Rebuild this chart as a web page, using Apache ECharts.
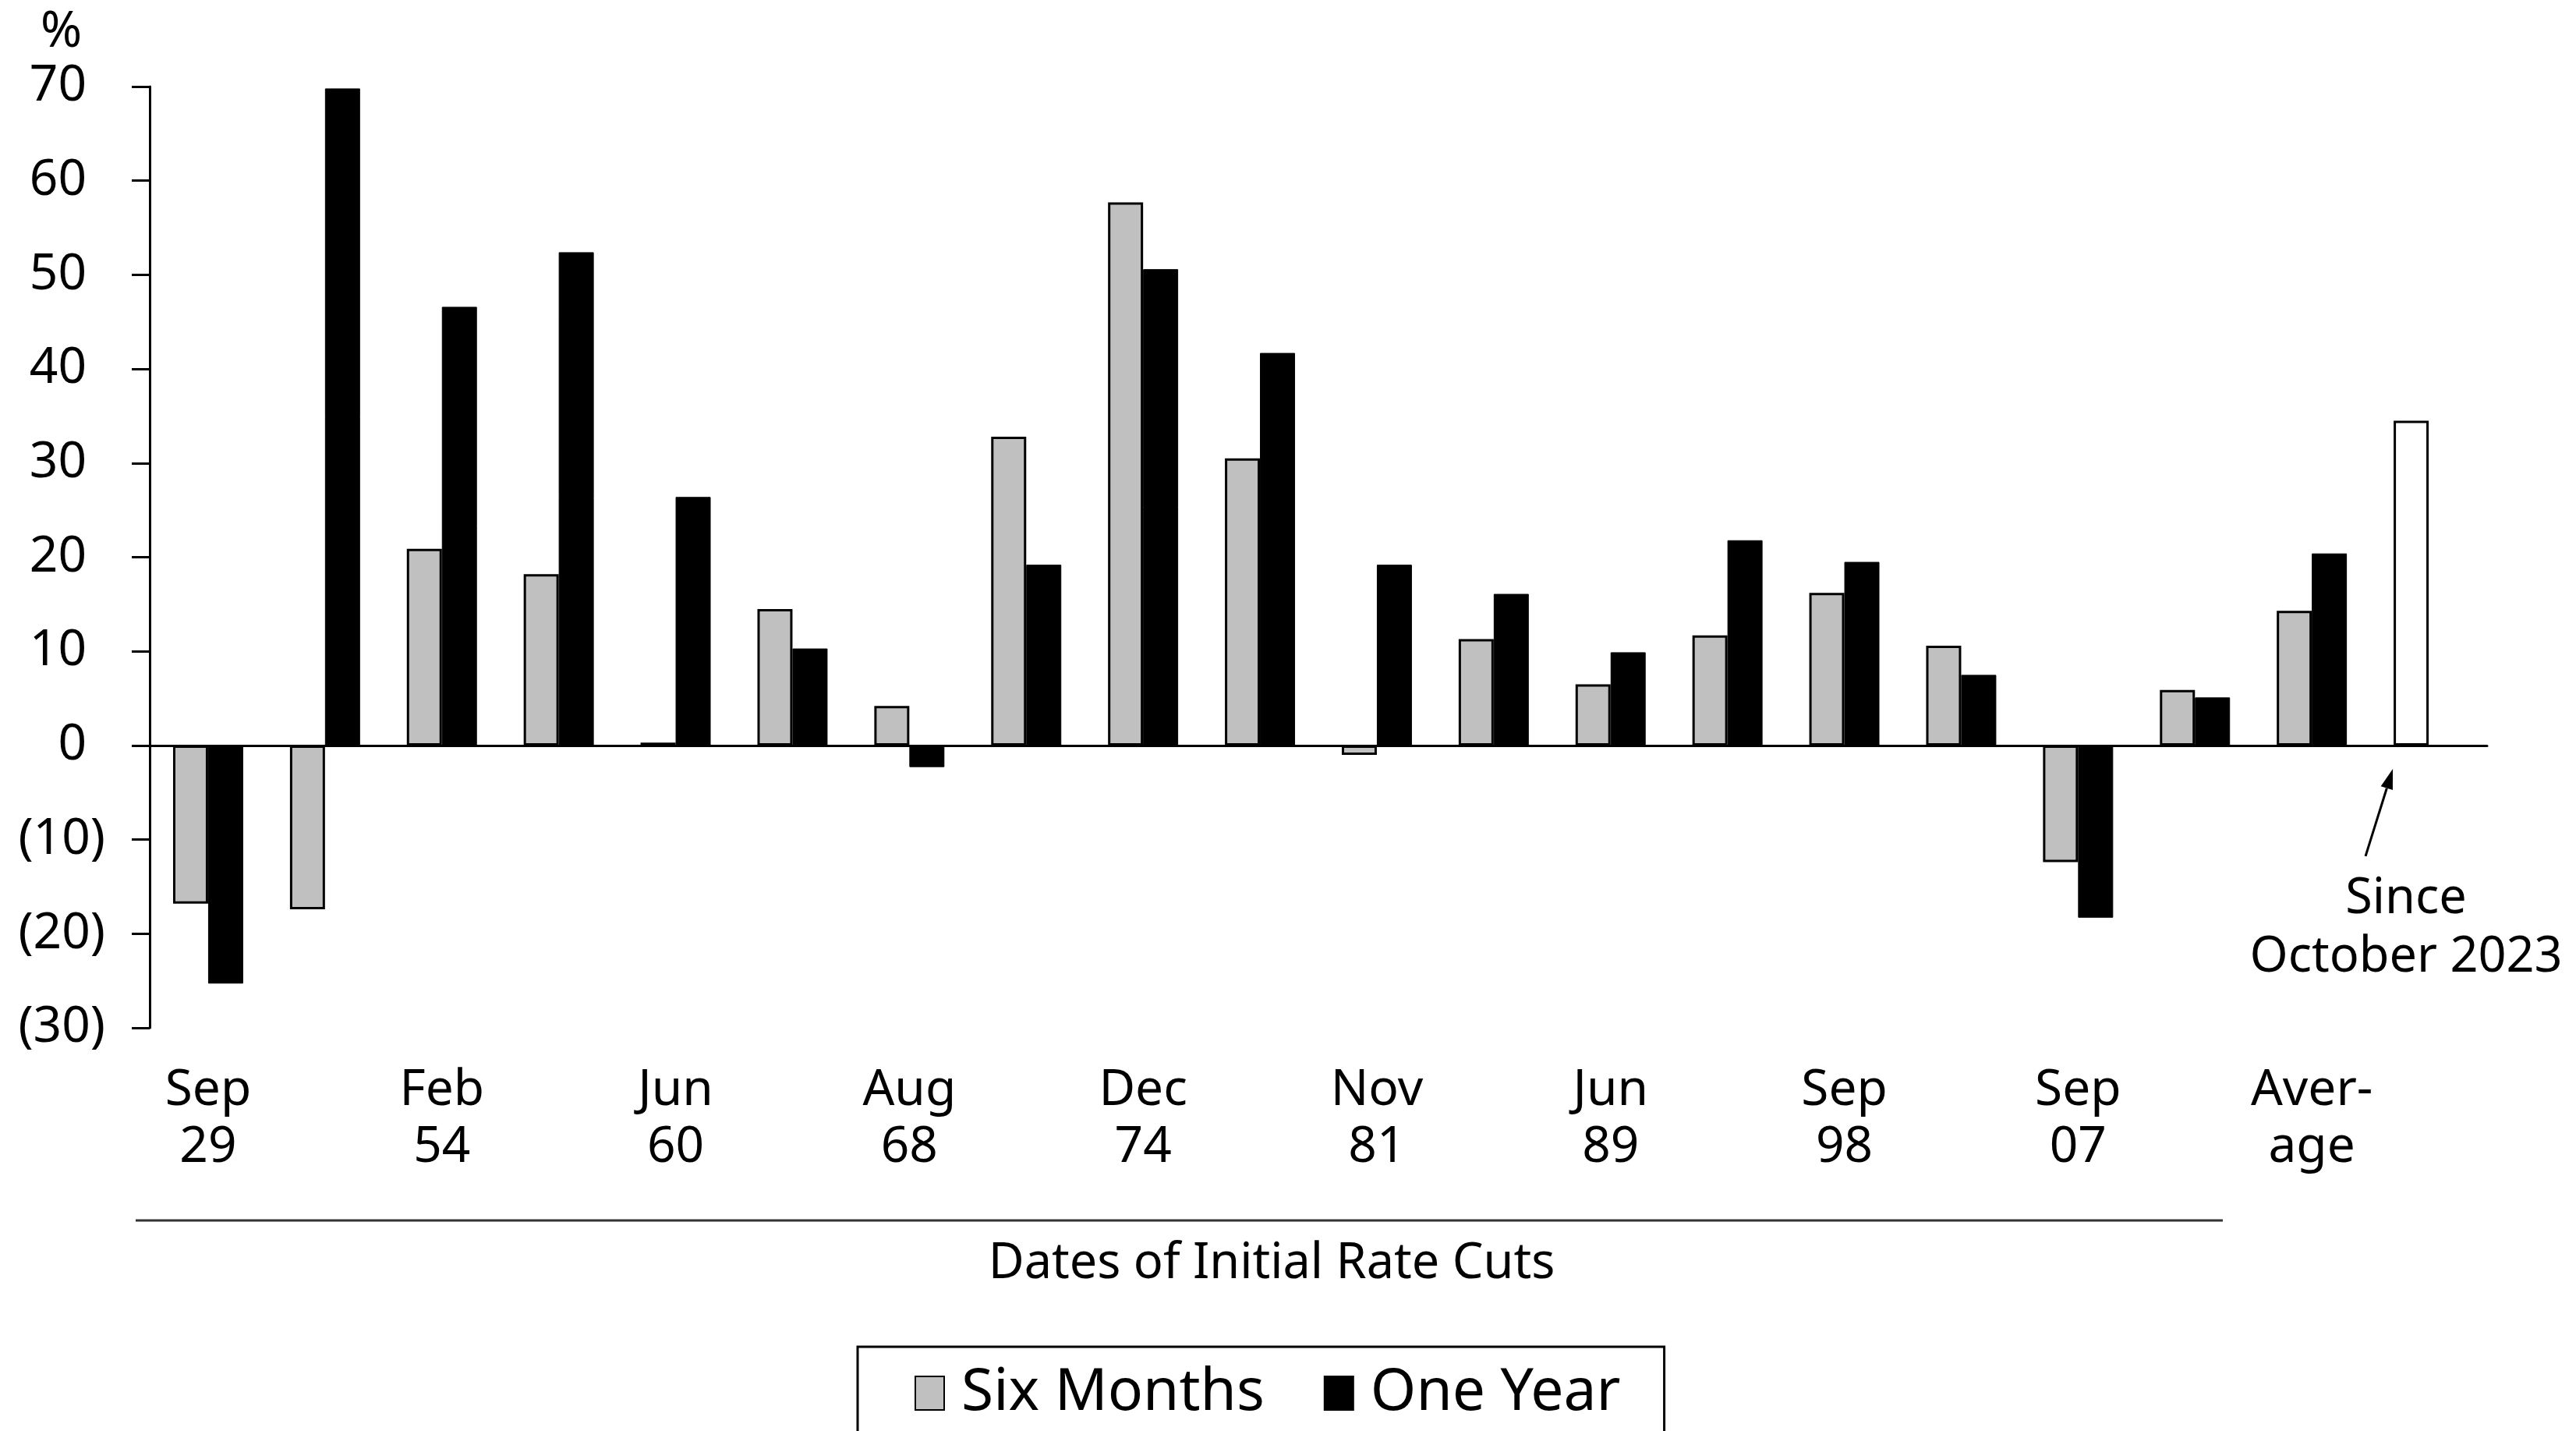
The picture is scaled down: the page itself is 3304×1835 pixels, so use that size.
<!DOCTYPE html>
<html lang="en">
<head>
    <meta charset="UTF-8">
    <title>Dates of Initial Rate Cuts</title>
    <script src="https://cdn.jsdelivr.net/npm/echarts@6/dist/echarts.min.js"></script>
    <style>
        html, body { margin: 0; padding: 0; background: #fff; }
        #chart { width: 3304px; height: 1835px; }
    </style>
</head>
<body>
    <div id="chart"></div>

    <script>
        // categories: one per rate-cut episode, then average, then "since Oct 2023"
        const categories = ['Sep 29', 'c2', 'Feb 54', 'c4', 'Jun 60', 'c6', 'Aug 68', 'c8', 'Dec 74', 'c10',
            'Nov 81', 'c12', 'Jun 89', 'c14', 'Sep 98', 'c16', 'Sep 07', 'c18', 'Average', 'Since Oct 2023'];
        // tick labels shown under the axis (every other episode)
        const tickLabels = ['Sep\n29', '', 'Feb\n54', '', 'Jun\n60', '', 'Aug\n68', '', 'Dec\n74', '',
            'Nov\n81', '', 'Jun\n89', '', 'Sep\n98', '', 'Sep\n07', '', 'Aver-\nage', ''];

        const sixMonths = [-16.8, -17.4, 20.9, 18.2, 0.3, 14.5, 4.2, 32.8, 57.7, 30.5,
            -1.0, 11.3, 6.5, 11.7, 16.2, 10.6, -12.4, 5.9, 14.3, 34.5];
        const oneYear = [-25.3, 69.8, 46.6, 52.4, 26.4, 10.3, -2.3, 19.2, 50.6, 41.7,
            19.2, 16.1, 9.9, 21.8, 19.5, 7.5, -18.3, 5.1, 20.4, null];

        const FONT = 'Noto Sans';
        const chart = echarts.init(document.getElementById('chart'));

        // last six-month value is the current cycle: drawn as a white bar
        const sixData = sixMonths.map((v, i) => i === sixMonths.length - 1
            ? { value: v, itemStyle: { color: '#fff' } }
            : v);

        const option = {
            animation: false,
            backgroundColor: '#fff',
            textStyle: { fontFamily: FONT, color: '#000' },
            title: {
                text: 'Dates of Initial Rate Cuts',
                left: 1626,
                top: 1585,
                textAlign: 'center',
                textStyle: { fontFamily: FONT, fontSize: 63, fontWeight: 'normal', color: '#000' }
            },
            legend: {
                left: 1100,
                top: 1727,
                padding: [22, 56, 22, 73],
                borderColor: '#000',
                borderWidth: 3,
                itemWidth: 37,
                itemHeight: 43,
                itemGap: 76,
                icon: 'rect',
                textStyle: { fontFamily: FONT, fontSize: 75, lineHeight: 62, color: '#000', padding: [0, 0, 0, 17] },
                data: ['Six Months', 'One Year']
            },
            grid: { left: 192, right: 114, top: 111, bottom: 517 },
            xAxis: [
                {
                    type: 'category',
                    data: categories,
                    axisLine: { onZero: true, lineStyle: { color: '#000', width: 3 } },
                    axisTick: { show: false },
                    axisLabel: { show: false },
                    splitLine: { show: false }
                },
                {
                    type: 'category',
                    data: tickLabels,
                    position: 'bottom',
                    axisLine: { show: false, onZero: false },
                    axisTick: { show: false },
                    axisLabel: {
                        interval: 0,
                        margin: 44,
                        fontFamily: FONT,
                        fontSize: 64,
                        lineHeight: 73,
                        color: '#000'
                    }
                }
            ],
            yAxis: {
                type: 'value',
                min: -30,
                max: 70,
                interval: 10,
                axisLine: { show: true, lineStyle: { color: '#000', width: 3 } },
                axisTick: { show: true, length: 23, lineStyle: { color: '#000', width: 3 } },
                splitLine: { show: false },
                axisLabel: {
                    margin: 57,
                    color: '#000',
                    // negatives in brackets, closing bracket hangs past the digits
                    formatter: v => v < 0 ? '{n|(' + Math.abs(v) + ')}' : '{p|' + v + '}',
                    rich: {
                        n: { fontFamily: FONT, fontSize: 64, color: '#000' },
                        p: { fontFamily: FONT, fontSize: 64, color: '#000', padding: [0, 24, 0, 0] }
                    }
                }
            },
            series: [
                {
                    name: 'Six Months',
                    type: 'bar',
                    xAxisIndex: 0,
                    data: sixData,
                    barGap: '0%',
                    barCategoryGap: '40%',
                    itemStyle: { color: '#c0c0c0', borderColor: '#000', borderWidth: 3 }
                },
                {
                    name: 'One Year',
                    type: 'bar',
                    xAxisIndex: 0,
                    data: oneYear,
                    barGap: '0%',
                    barCategoryGap: '40%',
                    itemStyle: { color: '#000', borderColor: '#000', borderWidth: 1 }
                }
            ]
        };

        chart.setOption(option);

        // annotation for the current cycle bar + decorative pieces
        const p = chart.convertToPixel({ xAxisIndex: 0, yAxisIndex: 0 }, [categories.length - 1, 0]);
        const tip = [p[0] - 46, p[1] + 30];
        const tail = [p[0] - 81, p[1] + 142];
        const dx = tip[0] - tail[0], dy = tip[1] - tail[1];
        const len = Math.sqrt(dx * dx + dy * dy);
        const ux = dx / len, uy = dy / len;
        const hl = 26, hw = 8;
        const base = [tip[0] - ux * hl, tip[1] - uy * hl];

        chart.setOption({
            graphic: [
                {
                    type: 'text',
                    left: 52,
                    top: 10,
                    style: { text: '%', fontFamily: FONT, fontSize: 64, fill: '#000' }
                },
                {
                    type: 'line',
                    shape: { x1: 174, y1: 1565, x2: 2851, y2: 1565 },
                    style: { stroke: '#333', lineWidth: 3 }
                },
                {
                    type: 'line',
                    shape: { x1: tail[0], y1: tail[1], x2: base[0], y2: base[1] },
                    style: { stroke: '#000', lineWidth: 3 }
                },
                {
                    type: 'polygon',
                    shape: {
                        points: [tip, [base[0] - uy * hw, base[1] + ux * hw], [base[0] + uy * hw, base[1] - ux * hw]]
                    },
                    style: { fill: '#000' }
                },
                {
                    type: 'text',
                    x: p[0] - 29,
                    y: p[1] + 160,
                    style: {
                        text: 'Since\nOctober 2023',
                        fontFamily: FONT,
                        fontSize: 63,
                        lineHeight: 75,
                        fill: '#000',
                        align: 'center',
                        verticalAlign: 'top'
                    }
                }
            ]
        });

        window.addEventListener('resize', () => chart.resize());
    </script>
</body>
</html>
